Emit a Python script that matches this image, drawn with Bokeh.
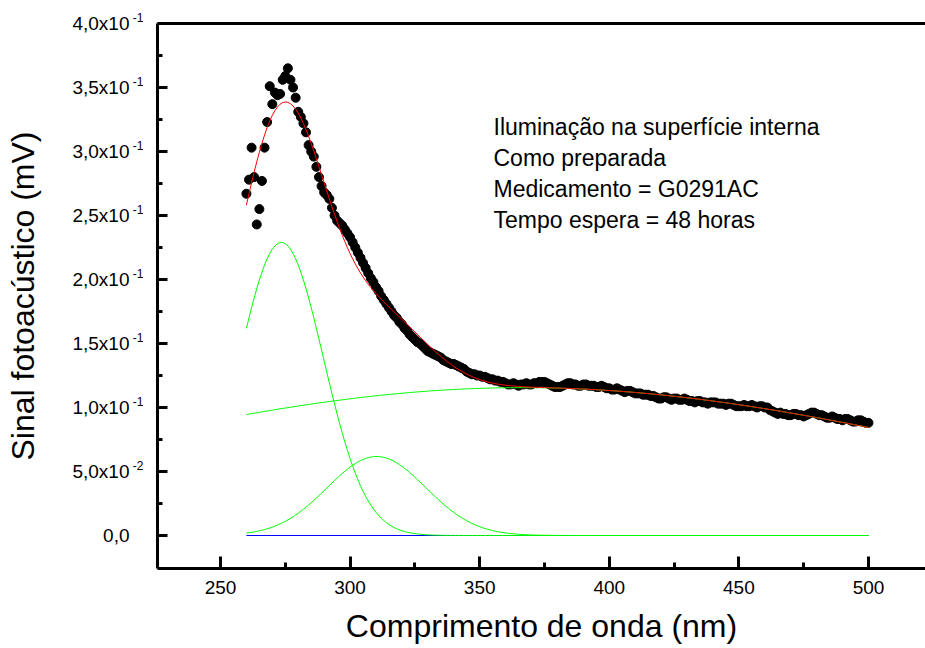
import numpy as np
from bokeh.plotting import figure
from bokeh.models import Range1d, FixedTicker, LinearAxis, Label
from bokeh.embed import file_html
from bokeh.resources import INLINE

# Measured photoacoustic spectrum (1 nm steps)
wavelength = list(range(260, 501))
signal = [
    0.267, 0.278, 0.303, 0.280, 0.243, 0.255, 0.277, 0.303, 0.323, 0.351,
    0.337, 0.346, 0.344, 0.345, 0.356, 0.359, 0.365, 0.356, 0.350, 0.342,
    0.331, 0.327, 0.322, 0.315, 0.305, 0.300, 0.296, 0.288, 0.280, 0.273,
    0.268, 0.266, 0.263, 0.256, 0.250, 0.246, 0.244, 0.242, 0.239, 0.236,
    0.233, 0.229, 0.225, 0.221, 0.217, 0.213, 0.209, 0.205, 0.201, 0.198,
    0.194, 0.191, 0.187, 0.184, 0.181, 0.178, 0.175, 0.172, 0.170, 0.167,
    0.165, 0.162, 0.160, 0.157, 0.155, 0.153, 0.151, 0.150, 0.148, 0.146,
    0.144, 0.143, 0.142, 0.141, 0.140, 0.139, 0.137, 0.136, 0.135, 0.134,
    0.134, 0.133, 0.132, 0.131, 0.130, 0.128, 0.127, 0.126, 0.126, 0.125,
    0.125, 0.124, 0.124, 0.123, 0.122, 0.122, 0.121, 0.121, 0.120, 0.120,
    0.119, 0.118, 0.118, 0.119, 0.118, 0.117, 0.118, 0.118, 0.119, 0.118,
    0.118, 0.119, 0.119, 0.120, 0.120, 0.120, 0.119, 0.118, 0.117, 0.116,
    0.116, 0.116, 0.117, 0.118, 0.119, 0.119, 0.118, 0.118, 0.117, 0.117,
    0.118, 0.118, 0.117, 0.117, 0.117, 0.116, 0.116, 0.117, 0.116, 0.115,
    0.115, 0.114, 0.114, 0.115, 0.114, 0.113, 0.112, 0.113, 0.113, 0.112,
    0.111, 0.111, 0.111, 0.110, 0.110, 0.110, 0.109, 0.109, 0.108, 0.107,
    0.107, 0.108, 0.108, 0.107, 0.106, 0.107, 0.107, 0.106, 0.106, 0.107,
    0.106, 0.105, 0.105, 0.104, 0.105, 0.105, 0.104, 0.104, 0.103, 0.104,
    0.104, 0.104, 0.103, 0.103, 0.103, 0.102, 0.103, 0.103, 0.102, 0.101,
    0.101, 0.101, 0.102, 0.101, 0.101, 0.102, 0.101, 0.100, 0.101, 0.101,
    0.100, 0.100, 0.098, 0.097, 0.096, 0.095, 0.096, 0.095, 0.095, 0.094,
    0.094, 0.095, 0.095, 0.094, 0.094, 0.093, 0.094, 0.095, 0.096, 0.096,
    0.095, 0.094, 0.094, 0.093, 0.092, 0.092, 0.093, 0.092, 0.091, 0.091,
    0.090, 0.091, 0.091, 0.090, 0.089, 0.089, 0.090, 0.090, 0.089, 0.088,
    0.088,
]

# Gaussian fit: three bands over a zero baseline
peak_center = [273.5, 310.2, 366.7]
peak_sigma = [16.2, 19.0, 168.4]
peak_height = [0.229, 0.0617, 0.1155]
baseline_level = 0.0

x_ticks = [250, 300, 350, 400, 450, 500]
x_minor_ticks = [275, 325, 375, 425, 475]
y_ticks = [0.0, 0.05, 0.10, 0.15, 0.20, 0.25, 0.30, 0.35, 0.40]
y_minor_ticks = [0.025, 0.075, 0.125, 0.175, 0.225, 0.275, 0.325, 0.375]
y_tick_mantissa = ["0,0", "5,0x10", "1,0x10", "1,5x10", "2,0x10",
                   "2,5x10", "3,0x10", "3,5x10", "4,0x10"]
y_tick_exponent = ["", "-2", "-1", "-1", "-1", "-1", "-1", "-1", "-1"]

info_lines = [
    "Iluminação na superfície interna",
    "Como preparada",
    "Medicamento = G0291AC",
    "Tempo espera = 48 horas",
]

FONT = "Liberation Sans"
W, H = 925, 648
LEFT, RIGHT, TOP, BOTTOM = 157, 925, 23, 568
x0, x1 = 225.7, 522.0
y0, y1 = -0.02578, 0.40
px_per_unit_y = (BOTTOM - TOP) / (y1 - y0)

p = figure(width=W, height=H, x_range=Range1d(x0, x1), y_range=Range1d(y0, y1),
           output_backend="svg", toolbar_location=None,
           min_border_left=LEFT, min_border_right=W - RIGHT,
           min_border_top=TOP, min_border_bottom=H - BOTTOM)
p.outline_line_color = None
p.xgrid.visible = False
p.ygrid.visible = False
p.background_fill_color = "white"
p.border_fill_color = "white"


def px_x(px):
    return x0 + (px - LEFT) * (x1 - x0) / (RIGHT - LEFT)


def px_y(py):
    return y1 - (py - TOP) / px_per_unit_y


# main axes: lines and inward ticks
for ax in (p.xaxis[0], p.yaxis[0]):
    ax.axis_line_width = 3
    ax.major_tick_line_width = 3
    ax.minor_tick_line_width = 3
    ax.major_tick_out = 0
    ax.minor_tick_out = 0
    ax.axis_label_text_font = FONT
    ax.axis_label_text_font_style = "normal"
    ax.axis_label_text_font_size = "32px"
    ax.axis_label_text_color = "black"

p.xaxis.ticker = FixedTicker(ticks=x_ticks, minor_ticks=x_minor_ticks)
p.xaxis.major_tick_in = 12
p.xaxis.minor_tick_in = 6
p.xaxis.major_label_text_font = FONT
p.xaxis.major_label_text_font_size = "19px"
p.xaxis.major_label_text_color = "black"
p.xaxis.major_label_standoff = 12
p.xaxis.axis_label = "Comprimento de onda (nm)"
p.xaxis.axis_label_standoff = 11

p.yaxis.ticker = FixedTicker(ticks=y_ticks, minor_ticks=y_minor_ticks)
p.yaxis.major_tick_in = 10
p.yaxis.minor_tick_in = 5
p.yaxis.major_label_overrides = {t: "" for t in y_ticks}
p.yaxis.major_label_standoff = 0


def bare_axis(**kw):
    return LinearAxis(axis_line_color=None, major_tick_line_color=None,
                      minor_tick_line_color=None, major_tick_in=0, major_tick_out=0,
                      minor_tick_in=0, minor_tick_out=0,
                      major_label_text_font=FONT, major_label_text_color="black", **kw)


# exponent labels: a blank second line lifts each one above its tick
exp_ticks = [t for t, e in zip(y_ticks, y_tick_exponent) if e]
exp_text = [e + "\n " for e in y_tick_exponent if e]
exp_axis = bare_axis(ticker=FixedTicker(ticks=exp_ticks),
                     major_label_overrides=dict(zip(exp_ticks, exp_text)),
                     major_label_text_font_size="12px",
                     major_label_text_line_height=0.8,
                     major_label_standoff=14)
p.add_layout(exp_axis, "left")

# mantissa labels and the y title
man_axis = bare_axis(ticker=FixedTicker(ticks=y_ticks),
                     major_label_overrides=dict(zip(y_ticks, y_tick_mantissa)),
                     major_label_text_font_size="19px", major_label_standoff=0,
                     axis_label="Sinal fotoacústico (mV)",
                     axis_label_text_font=FONT, axis_label_text_font_style="normal",
                     axis_label_text_font_size="32px", axis_label_text_color="black",
                     axis_label_standoff=28)
p.add_layout(man_axis, "left")

# top border line
top_axis = LinearAxis(ticker=FixedTicker(ticks=[]), axis_line_width=3,
                      major_label_text_font_size="0px")
p.add_layout(top_axis, "above")

# data
p.scatter(wavelength, signal, size=9, color="black", marker="circle")

# fitted components
wl = np.array(wavelength, dtype=float)
components = [h * np.exp(-((wl - c) ** 2) / (2 * s ** 2))
              for c, s, h in zip(peak_center, peak_sigma, peak_height)]
total = baseline_level + sum(components)

p.line(wl, np.full_like(wl, baseline_level), line_color="#0000ff", line_width=1.2)
for comp in components:
    p.line(wl, baseline_level + comp, line_color="#00ff00", line_width=1)
p.line(wl, total, line_color="#ff0000", line_width=1)

# annotation block
for i, line in enumerate(info_lines):
    p.add_layout(Label(x=px_x(493), y=px_y(126.5 + 31 * i), text=line,
                       text_align="left", text_baseline="alphabetic",
                       text_font=FONT, text_font_size="23px", text_color="black"))

open("out.html", "w").write(file_html(p, INLINE))
